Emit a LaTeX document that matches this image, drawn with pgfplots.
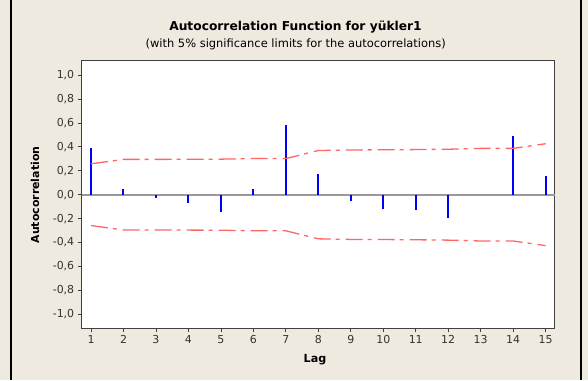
\documentclass[border=0pt]{standalone}
\usepackage{fontspec}
\setmainfont{DejaVu Sans}
\usepackage{pgfplots}
\pgfplotsset{compat=1.18}
\definecolor{bg}{HTML}{EEEAE0}
\definecolor{redlim}{HTML}{FF6666}
\definecolor{zerogray}{HTML}{999999}
\definecolor{framegray}{HTML}{404040}
\begin{document}
\begin{tikzpicture}[x=1bp,y=1bp]
\useasboundingbox (0,0) rectangle (588,380);
\fill[bg] (0,0) rectangle (588,380);
\draw[black, line width=1.3bp] (11,0) -- (11,380);
\draw[black, line width=1.3bp] (581,0) -- (581,380);
\node[anchor=base, inner sep=0pt, font=\bfseries\fontsize{12.3}{14}\selectfont] at (295.5,349.5) {Autocorrelation Function for yükler1};
\node[anchor=base, inner sep=0pt, font=\fontsize{11.5}{13}\selectfont] at (295.7,332.5) {(with 5\% significance limits for the autocorrelations)};
\node[rotate=90, inner sep=0pt, font=\bfseries\fontsize{11}{13}\selectfont] at (35,185) {Autocorrelation};
\node[anchor=base, inner sep=0pt, font=\bfseries\fontsize{11.2}{13}\selectfont] at (315,17.5) {Lag};
\begin{axis}[
  at={(81.7bp,51.7bp)}, anchor=south west,
  scale only axis, width=473bp, height=267.6bp,
  xmin=0.713, xmax=15.28, ymin=-1.117, ymax=1.12,
  axis background/.style={fill=white},
  axis line style={draw=framegray, line width=1bp},
  xtick={1,2,3,4,5,6,7,8,9,10,11,12,13,14,15},
  ytick={-1,-0.8,-0.6,-0.4,-0.2,0,0.2,0.4,0.6,0.8,1},
  tick align=outside, xtick pos=bottom, ytick pos=left,
  major tick length=4bp,
  tick style={framegray, line width=0.8bp},
  /pgf/number format/assume math mode=true,
  ticklabel style={font=\fontsize{11}{13}\selectfont, text=black!80},
  yticklabel style={/pgf/number format/.cd, fixed, fixed zerofill, precision=1, use comma},
  xticklabel style={/pgf/number format/.cd, fixed, precision=0},
  clip=false,
]
\addplot[zerogray, line width=2bp, forget plot] coordinates {(0.713,0) (15.28,0)};
\addplot[ycomb, blue, line width=2bp, mark=none] coordinates {
(1,0.39) (2,0.045) (3,-0.03) (4,-0.072) (5,-0.148) (6,0.045) (7,0.58) (8,0.171)
(9,-0.056) (10,-0.12) (11,-0.131) (12,-0.195) (13,0.0) (14,0.489) (15,0.154)};
\addplot[redlim, line width=1.3bp, dash pattern=on 17bp off 5bp on 4bp off 6bp] coordinates {
(1,0.258) (2,0.295) (3,0.295) (4,0.296) (5,0.297) (6,0.302) (7,0.302) (8,0.369)
(9,0.374) (10,0.375) (11,0.377) (12,0.380) (13,0.387) (14,0.387) (15,0.426)};
\addplot[redlim, line width=1.3bp, dash pattern=on 17bp off 5bp on 4bp off 6bp] coordinates {
(1,-0.258) (2,-0.295) (3,-0.295) (4,-0.296) (5,-0.297) (6,-0.302) (7,-0.302) (8,-0.369)
(9,-0.374) (10,-0.375) (11,-0.377) (12,-0.380) (13,-0.387) (14,-0.387) (15,-0.426)};
\end{axis}
\end{tikzpicture}
\end{document}
